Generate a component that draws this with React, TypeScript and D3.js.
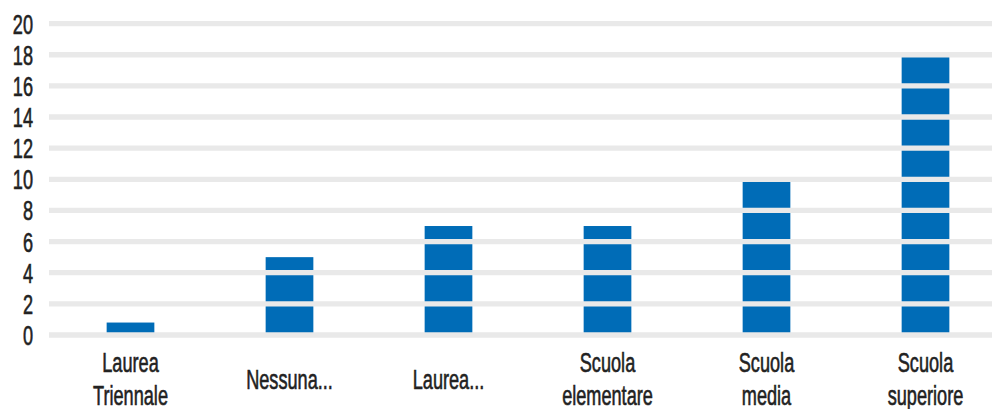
import React from "react";
import * as d3 from "d3";

const categories: string[][] = [
  ["Laurea", "Triennale"],
  ["Nessuna..."],
  ["Laurea..."],
  ["Scuola", "elementare"],
  ["Scuola", "media"],
  ["Scuola", "superiore"],
];
const values: number[] = [0.8, 5, 7, 7, 10, 18];
const yTicks: number[] = [0, 2, 4, 6, 8, 10, 12, 14, 16, 18, 20];

const W = 992;
const H = 409;
const FONT = "'Liberation Sans', Arial, sans-serif";
const SX = 0.66;

export default function App() {
  const keys = categories.map((c) => c.join(" "));
  const x = d3
    .scaleBand<string>()
    .domain(keys)
    .range([51, 1005])
    .paddingInner(0.7)
    .paddingOuter(0.35);
  const y = d3.scaleLinear().domain([0, 20]).range([335, 23.6]);

  return (
    <svg
      width={W}
      height={H}
      style={{ position: "absolute", left: 0, top: 0 }}
    >
      <rect width={W} height={H} fill="#ffffff" />
      {values.map((v, i) => (
        <rect
          key={keys[i]}
          x={x(keys[i])!}
          y={y(v)}
          width={x.bandwidth()}
          height={y(0) - y(v)}
          fill="#006cb7"
        />
      ))}
      {yTicks.map((t) => (
        <line
          key={"g" + t}
          x1={49}
          x2={W}
          y1={y(t)}
          y2={y(t)}
          stroke="#e9e9e9"
          strokeWidth={5.3}
        />
      ))}
      {yTicks.map((t) => (
        <text
          key={"t" + t}
          transform={`translate(33,${y(t) + 10}) scale(${SX},1)`}
          textAnchor="end"
          fontFamily={FONT}
          fontSize={27.5}
          fill="#222222"
          stroke="#222222"
          strokeWidth={0.6}
        >
          {t}
        </text>
      ))}
      {categories.map((lines, i) => {
        const cx = x(keys[i])! + x.bandwidth() / 2;
        const baseY = lines.length === 1 ? 388.5 : 372;
        return lines.map((ln, j) => (
          <text
            key={keys[i] + j}
            transform={`translate(${cx},${baseY + j * 33.3}) scale(${SX},1)`}
            textAnchor="middle"
            fontFamily={FONT}
            fontSize={27.5}
            fill="#222222"
            stroke="#222222"
            strokeWidth={0.6}
          >
            {ln}
          </text>
        ));
      })}
    </svg>
  );
}
